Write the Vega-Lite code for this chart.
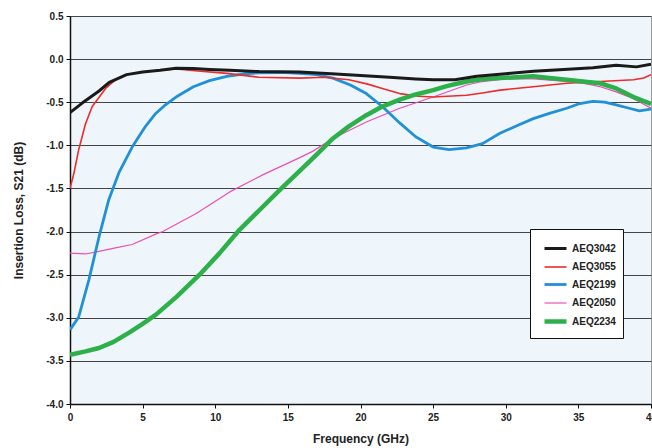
{
  "$schema": "https://vega.github.io/schema/vega-lite/v6.json",
  "width": 581,
  "height": 388,
  "autosize": {"type": "none"},
  "padding": {"left": 70, "top": 16, "right": 1, "bottom": 44},
  "background": "white",
  "config": {
    "font": "Liberation Sans",
    "view": {"fill": "#EEF6FC", "stroke": "#999999", "strokeWidth": 1},
    "axis": {"labelFont": "Liberation Sans", "titleFont": "Liberation Sans", "labelFontWeight": "bold", "titleFontWeight": "bold", "labelColor": "#222222", "titleColor": "#222222", "labelFontSize": 10, "titleFontSize": 12, "domainColor": "#111111", "tickColor": "#111111", "domainWidth": 1.5, "tickSize": 4}
  },
  "data": {"values": [
    {"s":"AEQ2050","f":0,"v":-2.25},{"s":"AEQ2050","f":1.07,"v":-2.26},{"s":"AEQ2050","f":2,"v":-2.23},{"s":"AEQ2050","f":3.13,"v":-2.19},{"s":"AEQ2050","f":4.28,"v":-2.15},{"s":"AEQ2050","f":5.9,"v":-2.03},{"s":"AEQ2050","f":6.39,"v":-2.0},{"s":"AEQ2050","f":8.69,"v":-1.79},{"s":"AEQ2050","f":11,"v":-1.54},{"s":"AEQ2050","f":13.3,"v":-1.34},{"s":"AEQ2050","f":15.6,"v":-1.16},{"s":"AEQ2050","f":16.7,"v":-1.07},{"s":"AEQ2050","f":18.1,"v":-0.92},{"s":"AEQ2050","f":20.4,"v":-0.73},{"s":"AEQ2050","f":22.7,"v":-0.57},{"s":"AEQ2050","f":25,"v":-0.44},{"s":"AEQ2050","f":27.3,"v":-0.3},{"s":"AEQ2050","f":28.4,"v":-0.26},{"s":"AEQ2050","f":30,"v":-0.23},{"s":"AEQ2050","f":31.9,"v":-0.23},{"s":"AEQ2050","f":33.5,"v":-0.25},{"s":"AEQ2050","f":35.3,"v":-0.28},{"s":"AEQ2050","f":36.5,"v":-0.32},{"s":"AEQ2050","f":37.6,"v":-0.38},{"s":"AEQ2050","f":38.8,"v":-0.46},{"s":"AEQ2050","f":40,"v":-0.57},

    {"s":"AEQ2199","f":0,"v":-3.14},{"s":"AEQ2199","f":0.6,"v":-2.99},{"s":"AEQ2199","f":1.3,"v":-2.56},{"s":"AEQ2199","f":2,"v":-2.06},{"s":"AEQ2199","f":2.67,"v":-1.63},{"s":"AEQ2199","f":3.36,"v":-1.32},{"s":"AEQ2199","f":4.28,"v":-1.02},{"s":"AEQ2199","f":5.2,"v":-0.78},{"s":"AEQ2199","f":5.9,"v":-0.63},{"s":"AEQ2199","f":6.5,"v":-0.54},{"s":"AEQ2199","f":7.3,"v":-0.44},{"s":"AEQ2199","f":8.5,"v":-0.32},{"s":"AEQ2199","f":9.6,"v":-0.25},{"s":"AEQ2199","f":10.8,"v":-0.2},{"s":"AEQ2199","f":12,"v":-0.17},{"s":"AEQ2199","f":13,"v":-0.16},{"s":"AEQ2199","f":14.5,"v":-0.155},{"s":"AEQ2199","f":15.8,"v":-0.165},{"s":"AEQ2199","f":17,"v":-0.18},{"s":"AEQ2199","f":18.1,"v":-0.22},{"s":"AEQ2199","f":19.3,"v":-0.3},{"s":"AEQ2199","f":20.4,"v":-0.4},{"s":"AEQ2199","f":21.5,"v":-0.55},{"s":"AEQ2199","f":22.7,"v":-0.74},{"s":"AEQ2199","f":23.8,"v":-0.9},{"s":"AEQ2199","f":25,"v":-1.02},{"s":"AEQ2199","f":26.1,"v":-1.05},{"s":"AEQ2199","f":27.3,"v":-1.03},{"s":"AEQ2199","f":28.4,"v":-0.98},{"s":"AEQ2199","f":29.6,"v":-0.86},{"s":"AEQ2199","f":30.8,"v":-0.77},{"s":"AEQ2199","f":31.9,"v":-0.69},{"s":"AEQ2199","f":33,"v":-0.63},{"s":"AEQ2199","f":34.2,"v":-0.57},{"s":"AEQ2199","f":35,"v":-0.52},{"s":"AEQ2199","f":36,"v":-0.49},{"s":"AEQ2199","f":36.8,"v":-0.5},{"s":"AEQ2199","f":37.6,"v":-0.53},{"s":"AEQ2199","f":38.5,"v":-0.57},{"s":"AEQ2199","f":39.2,"v":-0.6},{"s":"AEQ2199","f":40,"v":-0.58},

    {"s":"AEQ3055","f":0,"v":-1.5},{"s":"AEQ3055","f":0.26,"v":-1.33},{"s":"AEQ3055","f":0.6,"v":-1.05},{"s":"AEQ3055","f":1.07,"v":-0.75},{"s":"AEQ3055","f":1.53,"v":-0.55},{"s":"AEQ3055","f":2.45,"v":-0.34},{"s":"AEQ3055","f":3.2,"v":-0.23},{"s":"AEQ3055","f":3.9,"v":-0.18},{"s":"AEQ3055","f":5,"v":-0.15},{"s":"AEQ3055","f":6.2,"v":-0.13},{"s":"AEQ3055","f":7.3,"v":-0.115},{"s":"AEQ3055","f":9,"v":-0.14},{"s":"AEQ3055","f":10.8,"v":-0.165},{"s":"AEQ3055","f":13,"v":-0.21},{"s":"AEQ3055","f":15.8,"v":-0.22},{"s":"AEQ3055","f":17.5,"v":-0.21},{"s":"AEQ3055","f":19.2,"v":-0.24},{"s":"AEQ3055","f":20.5,"v":-0.29},{"s":"AEQ3055","f":21.5,"v":-0.34},{"s":"AEQ3055","f":22.7,"v":-0.4},{"s":"AEQ3055","f":24,"v":-0.43},{"s":"AEQ3055","f":25,"v":-0.44},{"s":"AEQ3055","f":26,"v":-0.43},{"s":"AEQ3055","f":27.3,"v":-0.42},{"s":"AEQ3055","f":28.5,"v":-0.39},{"s":"AEQ3055","f":29.6,"v":-0.36},{"s":"AEQ3055","f":31.9,"v":-0.32},{"s":"AEQ3055","f":34.2,"v":-0.28},{"s":"AEQ3055","f":36.5,"v":-0.26},{"s":"AEQ3055","f":38.8,"v":-0.24},{"s":"AEQ3055","f":39.5,"v":-0.22},{"s":"AEQ3055","f":40,"v":-0.18},

    {"s":"AEQ2234","f":0,"v":-3.43},{"s":"AEQ2234","f":1.07,"v":-3.39},{"s":"AEQ2234","f":2,"v":-3.35},{"s":"AEQ2234","f":3,"v":-3.28},{"s":"AEQ2234","f":4.1,"v":-3.17},{"s":"AEQ2234","f":5,"v":-3.07},{"s":"AEQ2234","f":5.94,"v":-2.96},{"s":"AEQ2234","f":7.31,"v":-2.76},{"s":"AEQ2234","f":8.92,"v":-2.5},{"s":"AEQ2234","f":10.3,"v":-2.25},{"s":"AEQ2234","f":11.67,"v":-1.98},{"s":"AEQ2234","f":13.05,"v":-1.75},{"s":"AEQ2234","f":14.43,"v":-1.52},{"s":"AEQ2234","f":15.8,"v":-1.3},{"s":"AEQ2234","f":16.96,"v":-1.11},{"s":"AEQ2234","f":18.1,"v":-0.92},{"s":"AEQ2234","f":19.2,"v":-0.78},{"s":"AEQ2234","f":20.4,"v":-0.65},{"s":"AEQ2234","f":21.5,"v":-0.55},{"s":"AEQ2234","f":22.7,"v":-0.47},{"s":"AEQ2234","f":23.8,"v":-0.41},{"s":"AEQ2234","f":25,"v":-0.36},{"s":"AEQ2234","f":26,"v":-0.31},{"s":"AEQ2234","f":27.3,"v":-0.26},{"s":"AEQ2234","f":28.5,"v":-0.23},{"s":"AEQ2234","f":29.6,"v":-0.22},{"s":"AEQ2234","f":31.9,"v":-0.2},{"s":"AEQ2234","f":33,"v":-0.22},{"s":"AEQ2234","f":34.2,"v":-0.24},{"s":"AEQ2234","f":35.3,"v":-0.26},{"s":"AEQ2234","f":36.5,"v":-0.28},{"s":"AEQ2234","f":37.6,"v":-0.34},{"s":"AEQ2234","f":38.8,"v":-0.44},{"s":"AEQ2234","f":40,"v":-0.52},

    {"s":"AEQ3042","f":0,"v":-0.62},{"s":"AEQ3042","f":0.84,"v":-0.51},{"s":"AEQ3042","f":2,"v":-0.37},{"s":"AEQ3042","f":2.7,"v":-0.27},{"s":"AEQ3042","f":3.9,"v":-0.18},{"s":"AEQ3042","f":5,"v":-0.15},{"s":"AEQ3042","f":6.2,"v":-0.13},{"s":"AEQ3042","f":7.3,"v":-0.105},{"s":"AEQ3042","f":8.5,"v":-0.11},{"s":"AEQ3042","f":9.6,"v":-0.12},{"s":"AEQ3042","f":11,"v":-0.13},{"s":"AEQ3042","f":13,"v":-0.145},{"s":"AEQ3042","f":15.8,"v":-0.15},{"s":"AEQ3042","f":18,"v":-0.17},{"s":"AEQ3042","f":20,"v":-0.19},{"s":"AEQ3042","f":22,"v":-0.21},{"s":"AEQ3042","f":23.8,"v":-0.23},{"s":"AEQ3042","f":25,"v":-0.24},{"s":"AEQ3042","f":26.5,"v":-0.24},{"s":"AEQ3042","f":28,"v":-0.2},{"s":"AEQ3042","f":30,"v":-0.17},{"s":"AEQ3042","f":31.9,"v":-0.14},{"s":"AEQ3042","f":34,"v":-0.12},{"s":"AEQ3042","f":36,"v":-0.1},{"s":"AEQ3042","f":37.6,"v":-0.07},{"s":"AEQ3042","f":39,"v":-0.09},{"s":"AEQ3042","f":40,"v":-0.06}
  ]},
  "mark": {"type": "line", "strokeCap": "butt", "strokeJoin": "round", "clip": true},
  "encoding": {
    "x": {"field": "f", "type": "quantitative", "scale": {"domain": [0, 40], "nice": false},
      "axis": {"title": "Frequency (GHz)", "values": [0,5,10,15,20,25,30,35,40], "grid": false, "labelPadding": 4, "titlePadding": 11, "labelFlush": false}},
    "y": {"field": "v", "type": "quantitative", "scale": {"domain": [-4, 0.5], "nice": false, "zero": false},
      "axis": {"title": "Insertion Loss, S21 (dB)", "values": [-4,-3.5,-3,-2.5,-2,-1.5,-1,-0.5,0,0.5], "grid": true, "gridColor": "#444444", "gridWidth": 1, "gridOpacity": 1, "labelPadding": 3, "titlePadding": 20, "labelExpr": "replace(format(datum.value, '.1f'), '\u2212', '-')"}},
    "color": {"field": "s", "type": "nominal",
      "scale": {"domain": ["AEQ3042","AEQ3055","AEQ2199","AEQ2050","AEQ2234"], "range": ["#1a1a1a","#EE2A2A","#2290D6","#EC4FB4","#2DB04A"]},
      "legend": {"title": null, "orient": "none", "legendX": 460, "legendY": 213, "fillColor": "white", "strokeColor": "#111111", "padding": 7, "rowPadding": -3, "symbolType": "stroke", "symbolSize": 484, "symbolOffset": 5, "labelFontSize": 10, "labelFontWeight": "bold", "labelFont": "Liberation Sans", "labelColor": "#222222", "labelOffset": 3}},
    "strokeWidth": {"field": "s", "type": "nominal",
      "scale": {"type": "ordinal", "domain": ["AEQ3042","AEQ3055","AEQ2199","AEQ2050","AEQ2234"], "range": [3, 1.6, 2.8, 1.2, 4.5]},
      "legend": {"title": null, "orient": "none", "legendX": 460, "legendY": 213, "fillColor": "white", "strokeColor": "#111111", "padding": 7, "rowPadding": -3, "symbolType": "stroke", "symbolSize": 484, "symbolOffset": 5, "labelFontSize": 10, "labelFontWeight": "bold", "labelFont": "Liberation Sans", "labelColor": "#222222", "labelOffset": 3}}
  }
}
